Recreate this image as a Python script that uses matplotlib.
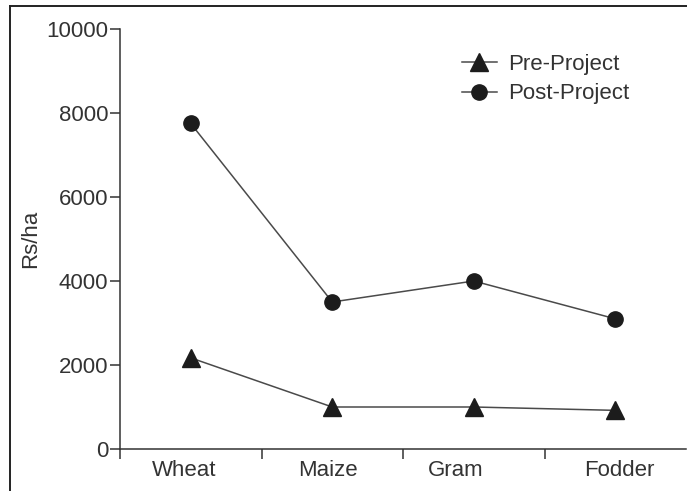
import numpy as np
import matplotlib
matplotlib.use('Agg')
import matplotlib.pyplot as plt
from matplotlib.lines import Line2D

crops = ['Wheat', 'Maize', 'Gram', 'Fodder']
pre_project = [2170, 1000, 1000, 920]
post_project = [7750, 3500, 4000, 3100]
# label positions as placed under each category in the original
label_pos = [0.455, 1.47, 2.37, 3.53]

plt.rcParams['font.family'] = ['Liberation Sans', 'DejaVu Sans']
fs = 16

fig = plt.figure(figsize=(6.87, 4.91), dpi=100)
ax = fig.add_axes([120/687, 1-449/491, 566/687, 420/491])

x = np.arange(len(crops)) + 0.5
line_col = '#4a4a4a'
mark_col = '#1c1c1c'

ax.plot(x, pre_project, color=line_col, lw=1.1, marker='^', ms=13,
        mfc=mark_col, mec=mark_col, label='Pre-Project')
ax.plot(x, post_project, color=line_col, lw=1.1, marker='o', ms=11,
        mfc=mark_col, mec=mark_col, label='Post-Project')

ax.set_xlim(0, 4)
ax.set_ylim(0, 10000)
ax.set_yticks(np.arange(0, 10001, 2000))

ax.set_xticks(np.arange(0, 4))
ax.set_xticklabels([])
ax.set_xticks(label_pos, minor=True)
ax.set_xticklabels(crops, minor=True)

for s in ['top', 'right']:
    ax.spines[s].set_visible(False)
for s in ['left', 'bottom']:
    ax.spines[s].set_color('#333333')
    ax.spines[s].set_linewidth(1.1)

ax.tick_params(axis='y', which='major', length=7, width=1.1, color='#333333',
               labelsize=fs, labelcolor='#333333', pad=1.5)
ax.tick_params(axis='x', which='major', length=7, width=1.1, color='#333333')
ax.tick_params(axis='x', which='minor', length=0, labelsize=fs,
               labelcolor='#333333', pad=8)

ax.set_ylabel('Rs/ha', fontsize=fs, color='#333333', labelpad=4)

leg = ax.legend(loc='upper left', bbox_to_anchor=(0.588, 0.962), frameon=False,
                fontsize=fs, handlelength=1.6, handletextpad=0.5,
                labelspacing=0.38, borderaxespad=0)
for t in leg.get_texts():
    t.set_color('#333333')

# outer frame (left and top only)
fig.add_artist(Line2D([9.5/687, 9.5/687], [0, 1-6/491], transform=fig.transFigure,
                      color='#222222', lw=1.4))
fig.add_artist(Line2D([9.5/687, 1], [1-6/491, 1-6/491], transform=fig.transFigure,
                      color='#222222', lw=1.4))

fig.savefig('out.png', dpi=100)
